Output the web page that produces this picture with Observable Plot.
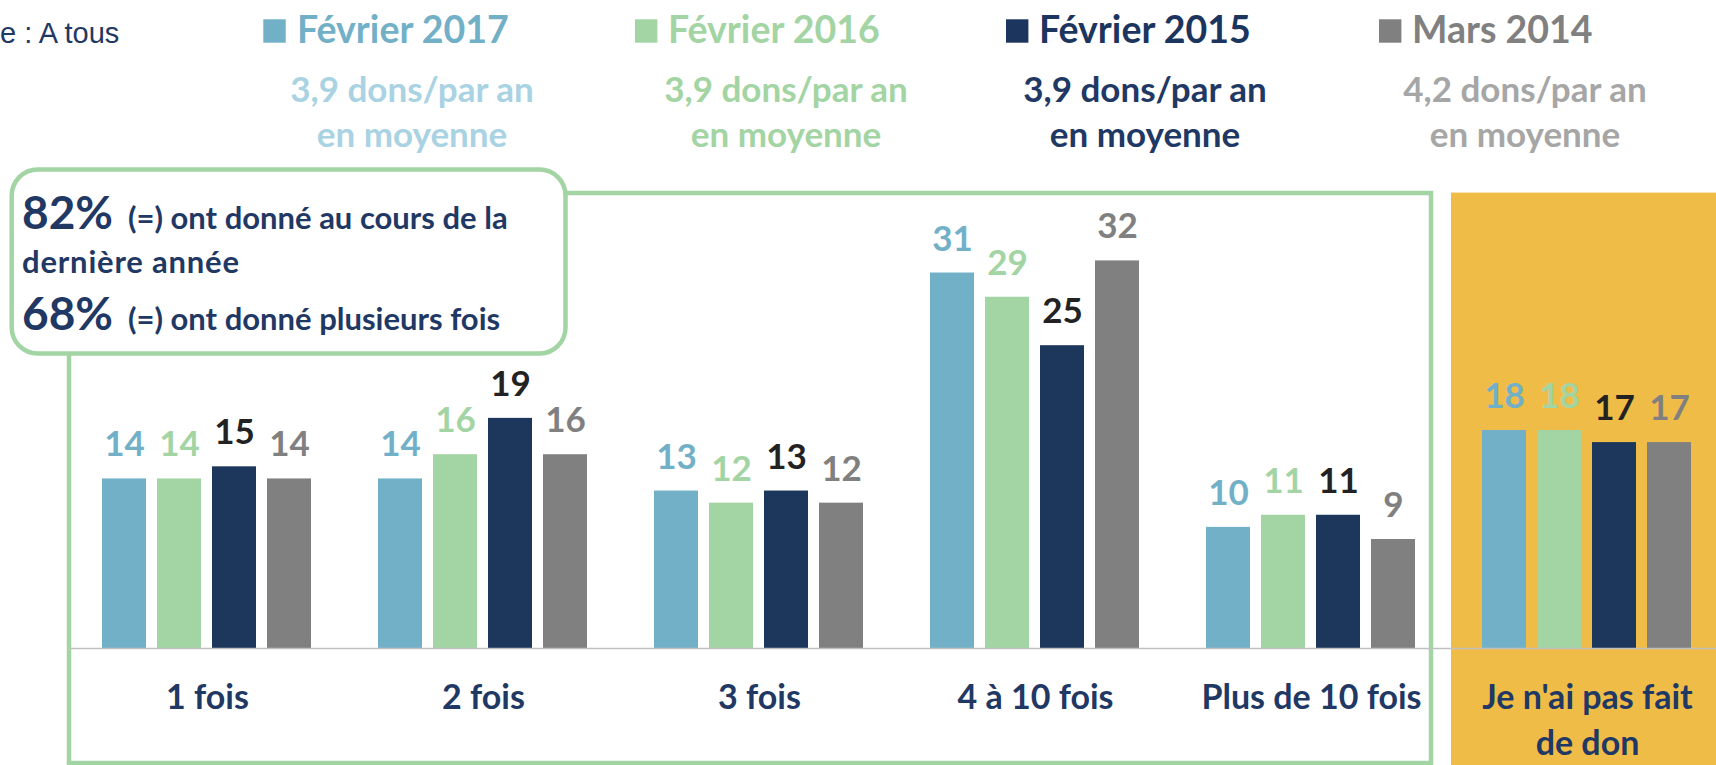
<!DOCTYPE html>
<html>
<head>
<meta charset="utf-8">
<script src="https://cdn.jsdelivr.net/npm/d3@7"></script>
<script src="https://cdn.jsdelivr.net/npm/@observablehq/plot@0.6"></script>
<style>
  html, body { margin: 0; padding: 0; background: #fff; overflow: hidden; }
  #wrap { position: relative; width: 1716px; height: 765px; overflow: hidden; }
  #bg, #fg, #chart { position: absolute; left: 0; top: 0; }
  #chart { width: 1725px; height: 765px; }
  #chart svg { display: block; max-width: none !important; width: 1725px !important; height: 765px !important; }
  .b { font-family: Lato, "Open Sans", sans-serif; font-weight: 700; }
</style>
</head>
<body>
<div id="wrap">
  <svg id="bg" width="1716" height="765"></svg>
  <div id="chart"></div>
  <svg id="fg" width="1716" height="765"></svg>
</div>
<script>
// ---------------- data ----------------
const categories = ["1 fois", "2 fois", "3 fois", "4 à 10 fois", "Plus de 10 fois", "Je n'ai pas fait de don"];
const categoryLabels = ["1 fois", "2 fois", "3 fois", "4 à 10 fois", "Plus de 10 fois", "Je n'ai pas fait\nde don"];
const series = ["Février 2017", "Février 2016", "Février 2015", "Mars 2014"];
const seriesNotes = ["3,9 dons/par an", "3,9 dons/par an", "3,9 dons/par an", "4,2 dons/par an"];
const noteLine2 = "en moyenne";
const fev2017 = [14, 14, 13, 31, 10, 18];
const fev2016 = [14, 16, 12, 29, 11, 18];
const fev2015 = [15, 19, 13, 25, 11, 17];
const mars2014 = [14, 16, 12, 32, 9, 17];
const baseText = "e : A tous";
const summaryPct = ["82%", "68%"];
const summaryText = ["(=) ont donné au cours de la", "(=) ont donné plusieurs fois"];
const summaryCont = "dernière année";

// ---------------- styles ----------------
const barColors = ["#72b0c8", "#a3d4a3", "#1c365c", "#808080"];
const labelColors = ["#72b0c8", "#a3d4a3", "#222222", "#808080"];
const legendColors = ["#72b0c8", "#a3d4a3", "#1c355e", "#808080"];
const noteColors = ["#a9d3e3", "#a3d4a3", "#1f3864", "#a6a6a6"];
const navy = "#1f3864";
const green = "#a3d4a3";
const orange = "#f0bc48";

const values = [fev2017, fev2016, fev2015, mars2014];
const rows = categories.flatMap((c, i) => series.map((s, j) => ({cat: c, series: s, value: values[j][i]})));

// ---------------- chart ----------------
const chart = Plot.plot({
  width: 1725,
  height: 765,
  marginLeft: 69,
  marginRight: 0,
  marginTop: 0,
  marginBottom: 117,
  style: {background: "transparent", fontFamily: "Lato, 'Open Sans', sans-serif", overflow: "visible"},
  fx: {domain: categories, paddingInner: 0, paddingOuter: 0, axis: null, label: null},
  x: {domain: series, paddingInner: 0.195, paddingOuter: 0.606, axis: null},
  y: {domain: [0, 53.5], axis: null},
  color: {domain: series, range: barColors},
  marks: [
    Plot.barY(rows, {fx: "cat", x: "series", y: "value", fill: "series"}),
    Plot.ruleY([0], {stroke: "#c0c0c0", strokeWidth: 1.5}),
    ...series.map((s, j) => Plot.text(rows.filter(d => d.series === s), {
      fx: "cat", x: "series", y: "value", text: d => String(d.value),
      dy: -22.5, lineAnchor: "bottom", fill: labelColors[j],
      fontSize: 35, fontWeight: "bold"
    })),
    Plot.text(categories, {
      fx: d => d, text: (d, i) => categoryLabels[i],
      frameAnchor: "bottom", lineAnchor: "top", dy: 28.4, lineHeight: 1.35,
      fontSize: 34, fontWeight: "bold", fill: navy
    })
  ]
});
document.getElementById("chart").appendChild(chart);

// ---------------- decorations ----------------
const NS = "http://www.w3.org/2000/svg";
function el(parent, tag, attrs, text) {
  const e = document.createElementNS(NS, tag);
  for (const k in attrs) e.setAttribute(k, attrs[k]);
  if (text != null) e.textContent = text;
  parent.appendChild(e);
  return e;
}
const bg = document.getElementById("bg");
el(bg, "rect", {x: 1451, y: 192.6, width: 270, height: 580, fill: orange});
el(bg, "rect", {x: 69, y: 193, width: 1362, height: 570, fill: "none", stroke: green, "stroke-width": 4.5});

const fg = document.getElementById("fg");
// subtitle (cut)
el(fg, "text", {x: 0, y: 43, "font-family": "'Liberation Sans', Arial, sans-serif", "font-size": 29, fill: navy}, baseText);

// legend
const legendSquareX = [263.3, 635, 1006, 1379];
const legendTextX = [297, 668, 1039, 1412];
const noteCenterX = [412, 786, 1145, 1525];
series.forEach((s, j) => {
  el(fg, "rect", {x: legendSquareX[j], y: 19.3, width: 22.4, height: 23.4, fill: legendColors[j]});
  el(fg, "text", {x: legendTextX[j], y: 42.7, class: "b", "font-size": 37.5, fill: legendColors[j]}, s);
  el(fg, "text", {x: noteCenterX[j], y: 101.7, class: "b", "font-size": 35, fill: noteColors[j], "text-anchor": "middle"}, seriesNotes[j]);
  el(fg, "text", {x: noteCenterX[j], y: 146.5, class: "b", "font-size": 35, fill: noteColors[j], "text-anchor": "middle"}, noteLine2);
});

// callout
el(fg, "rect", {x: 11.7, y: 169.5, width: 553.8, height: 184, rx: 26, ry: 26, fill: "#fff", stroke: green, "stroke-width": 4.5});
el(fg, "text", {x: 22, y: 229, class: "b", "font-size": 46, fill: navy}, summaryPct[0]);
el(fg, "text", {x: 128, y: 229, class: "b", "font-size": 31, fill: navy}, summaryText[0]);
el(fg, "text", {x: 22, y: 272.5, class: "b", "font-size": 31, fill: navy, "letter-spacing": 0.8}, summaryCont);
el(fg, "text", {x: 22, y: 330, class: "b", "font-size": 46, fill: navy}, summaryPct[1]);
el(fg, "text", {x: 128, y: 330, class: "b", "font-size": 31, fill: navy}, summaryText[1]);
</script>
</body>
</html>
